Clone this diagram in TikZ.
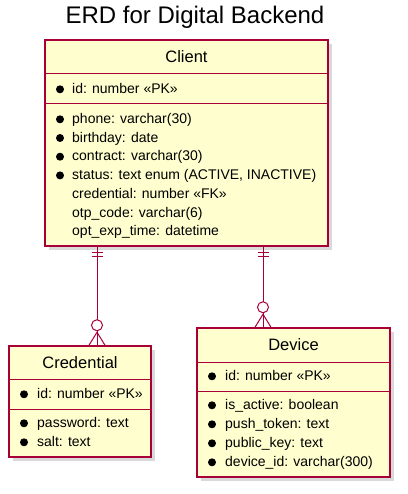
\documentclass[tikz,border=0pt]{standalone}
\usepackage{fontspec}
\setmainfont{Liberation Sans}
\usetikzlibrary{shadows, calc, positioning}
\definecolor{erdred}{HTML}{A80036}
\definecolor{erdfill}{HTML}{FEFECE}
\newcommand{\erdlink}[2]{%
	\draw[rel] (#1) -- ($(#2)+(0,-25.5)$);
	\draw[rel] ($(#2)+(0,-20)$) circle (5.5);
	\draw[rel] ($(#2)+(0,-14.5)$) -- (#2);
	\draw[rel] ($(#2)+(0,-13)$) -- ($(#2)+(-8,0)$);
	\draw[rel] ($(#2)+(0,-13)$) -- ($(#2)+(8,0)$);
	\draw[rel] ($(#1)+(-5.5,6)$) -- ($(#1)+(5.5,6)$);
	\draw[rel] ($(#1)+(-5.5,10)$) -- ($(#1)+(5.5,10)$);
}

\begin{document}
\begin{tikzpicture}[x=1pt, y=-1pt, font=\fontsize{14}{16}\selectfont,
	entity/.style={draw=erdred, fill=erdfill, line width=1.5pt, inner sep=0pt,
		drop shadow={shadow xshift=4pt, shadow yshift=-4pt, opacity=0.3}},
	sep/.style={draw=erdred, line width=1pt},
	head/.style={font=\fontsize{16.5}{18}\selectfont, inner sep=0pt},
	field/.style={anchor=west, inner sep=0pt, text height=10pt, text depth=3pt},
	rel/.style={draw=erdred, line width=1pt}]
	\def\R{4}
	\useasboundingbox (0,0) rectangle (407,494);
	
	\node[font=\fontsize{24}{28}\selectfont] (title) at (195,17) {ERD for Digital Backend};
	
	% Client
	\node[entity, minimum width=283pt, minimum height=206pt] (client) at (186.5,143) {};
	\draw[sep] (client.west |- 0,74) -- (client.east |- 0,74);
	\draw[sep] (client.west |- 0,104) -- (client.east |- 0,104);
	\node[head] (clienthead) at (186.5,57) {Client};
	\node[field] (clientid) at (72,90) {id: number «PK»};
	\fill (60,89.3) circle (\R);
	\foreach \y/\t [count=\i] in {120/{phone: varchar(30)}, 138.7/{birthday: date},
		157.4/{contract: varchar(30)}, 176.1/{status: text enum (ACTIVE, INACTIVE)}}{
		\node[field] (client-\i) at (72,\y) {\t};
		\fill (60,\y-0.7) circle (\R);
	}
	\node[field] (client-fk) at (72,194.8) {credential: number «FK»};
	\node[field] (client-otp) at (72,213.5) {otp\_code: varchar(6)};
	\node[field] (client-exp) at (72,232.2) {opt\_exp\_time: datetime};
	
	% Credential
	\node[entity, minimum width=142pt, minimum height=111pt] (credential) at (80,401.5) {};
	\draw[sep] (credential.west |- 0,379) -- (credential.east |- 0,379);
	\draw[sep] (credential.west |- 0,409) -- (credential.east |- 0,409);
	\node[head] (credhead) at (80,363) {Credential};
	\node[field] (credid) at (37,395) {id: number «PK»};
	\fill (24,394.3) circle (\R);
	\foreach \y/\t [count=\i] in {424/{password: text}, 443/{salt: text}}{
		\node[field] (cred-\i) at (37,\y) {\t};
		\fill (24,\y-0.7) circle (\R);
	}
	
	% Device
	\node[entity, minimum width=193pt, minimum height=149pt] (device) at (293.5,402.5) {};
	\draw[sep] (device.west |- 0,362) -- (device.east |- 0,362);
	\draw[sep] (device.west |- 0,391) -- (device.east |- 0,391);
	\node[head] (devhead) at (293.5,345) {Device};
	\node[field] (devid) at (225,377) {id: number «PK»};
	\fill (212,376.3) circle (\R);
	\foreach \y/\t [count=\i] in {406/{is\_active: boolean}, 425/{push\_token: text},
		444/{public\_key: text}, 463/{device\_id: varchar(300)}}{
		\node[field] (dev-\i) at (225,\y) {\t};
		\fill (212,\y-0.7) circle (\R);
	}
	
	% relations
	\coordinate (clientl) at (client.south -| 97,0);
	\coordinate (clientr) at (client.south -| 263,0);
	\coordinate (credtop) at (credential.north -| 97,0);
	\coordinate (devtop) at (device.north -| 263,0);
	\erdlink{clientl}{credtop}
	\erdlink{clientr}{devtop}
\end{tikzpicture}
\end{document}
